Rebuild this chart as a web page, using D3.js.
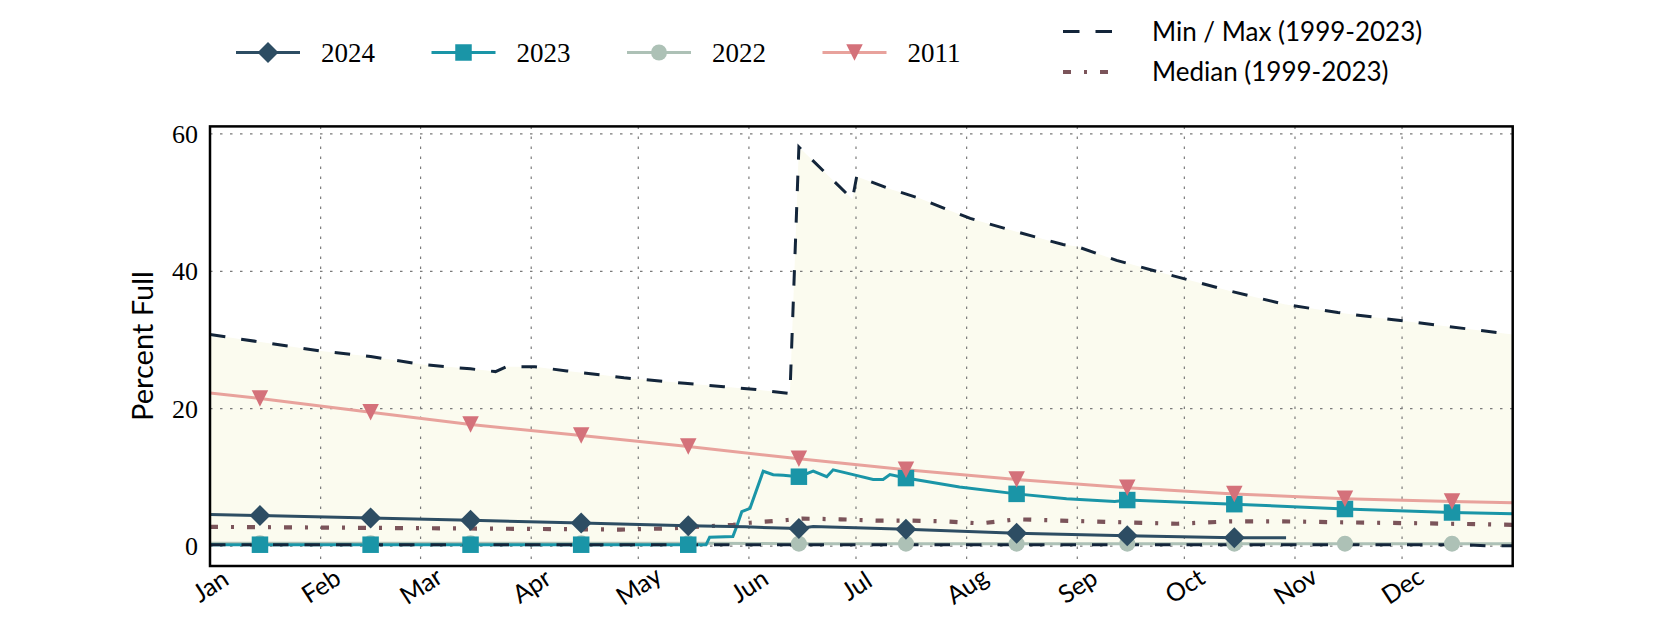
<!DOCTYPE html>
<html><head><meta charset="utf-8">
<script src="https://cdn.jsdelivr.net/npm/d3@7"></script>
<style>body{margin:0;background:#fff;} svg{display:block;}</style>
</head><body>
<svg id="chart" width="1680" height="630"></svg>
<script>
// ---------- data ----------
const monthLabels = ["Jan","Feb","Mar","Apr","May","Jun","Jul","Aug","Sep","Oct","Nov","Dec"];
const monthStartDays = [0,31,59,90,120,151,181,212,243,273,304,334];
const markerDays = [14,45,73,104,134,165,195,226,257,287,318,348];
const yTicks = [0,20,40,60];

const max9923 = [[0,30.8],[31,28.4],[45,27.6],[60,26.4],[73,25.8],[80,25.4],[83,26.1],[91,26.1],[100,25.5],[110,24.9],[116,24.5],[133,23.7],[144,23.2],[153,22.8],[162.5,22.2],[165,58.1],[180,50.5],[181.2,53.8],[190.5,52.0],[199,50.6],[206.5,49.0],[213,47.7],[225,45.9],[239,43.9],[243,43.6],[254,41.6],[268,39.6],[286,37.1],[301,35.2],[316,34.0],[331,33.0],[365,30.8]];
const min9923 = [[0,0.2],[120,0.2],[240,0.2],[352,0.2],[358,0.05],[365,0.05]];
const median9923 = [[0,2.8],[30,2.7],[60,2.6],[90,2.5],[115,2.4],[130,2.6],[146.6,3.1],[151.4,3.4],[161.8,3.8],[166,4.0],[176.6,3.9],[187,3.7],[196,3.7],[206,3.6],[216,3.3],[226,3.9],[246,3.6],[271,3.25],[286,3.6],[300,3.6],[319,3.45],[342,3.3],[365,3.1]];

const s2024 = [[0,4.6],[14,4.45],[45,4.1],[73,3.75],[104,3.35],[134,2.95],[150,2.8],[165,2.55],[169,2.85],[195,2.45],[226,1.85],[257,1.5],[287,1.2],[301.5,1.2]];
const s2023 = [[0,0.2],[14,0.2],[45,0.2],[73,0.2],[104,0.2],[134,0.2],[139,0.2],[140,1.3],[146.5,1.4],[147.6,2.9],[149,5.0],[151.3,5.5],[155,10.9],[157.8,10.4],[160.6,10.3],[165,10.1],[169,10.9],[172.8,10.1],[174.6,11.1],[180.2,10.4],[185.8,9.7],[188.6,9.7],[190.5,10.4],[195,9.9],[210,8.6],[226,7.6],[240,6.9],[253.5,6.5],[257,6.7],[287,6.1],[318,5.4],[348,4.9],[365,4.7]];
const s2022 = [[0,0.4],[14,0.4],[45,0.4],[73,0.4],[104,0.4],[134,0.4],[165,0.35],[195,0.35],[226,0.35],[257,0.35],[287,0.35],[318,0.35],[348,0.35],[365,0.35]];
const s2011 = [[0,22.3],[14,21.5],[45,19.5],[73,17.7],[104,16.1],[134,14.5],[165,12.7],[195,11.1],[226,9.7],[257,8.5],[287,7.6],[318,6.9],[348,6.5],[365,6.3]];

// ---------- layout ----------
const svg = d3.select("#chart");
const plot = {left:210, right:1512.7, top:126.4, bottom:566};
const x = d3.scaleLinear().domain([0,365]).range([plot.left, plot.right]);
const y = d3.scaleLinear().domain([-2.9,61.1]).range([plot.bottom, plot.top]);

const SANS = "Lato, 'Open Sans', sans-serif";
const SERIF = "'Liberation Serif', 'DejaVu Serif', serif";
const LW = 3;

svg.append("defs").append("clipPath").attr("id","clip")
  .append("rect").attr("x",plot.left).attr("y",plot.top)
  .attr("width",plot.right-plot.left).attr("height",plot.bottom-plot.top);

const g = svg.append("g").attr("clip-path","url(#clip)");

// shaded band between min and max
const band = max9923.map(d=>[x(d[0]),y(d[1])]).concat(min9923.slice().reverse().map(d=>[x(d[0]),y(d[1])]));
g.append("path").attr("d", d3.line()(band) + "Z").attr("fill","#fbfbef");

// grid
const gridStyle = sel => sel.attr("stroke","#7a7a7a").attr("stroke-width",1.2).attr("stroke-dasharray","2.5,7.5");
g.selectAll(".hg").data(yTicks).join("line")
  .attr("x1",plot.left).attr("x2",plot.right).attr("y1",d=>y(d)).attr("y2",d=>y(d)).call(gridStyle);
g.selectAll(".vg").data(monthStartDays.slice(1)).join("line")
  .attr("y1",plot.top).attr("y2",plot.bottom).attr("x1",d=>x(d)).attr("x2",d=>x(d)).call(gridStyle);

const line = d3.line().x(d=>x(d[0])).y(d=>y(d[1]));

const C = {c2024:"#2d4d63", c2023:"#1a95a7", c2022:"#adc1b6", c2011line:"#e8a29c", c2011:"#d4717a", minmax:"#13253a", median:"#7b545a"};

g.append("path").attr("d",line(median9923)).attr("fill","none").attr("stroke",C.median).attr("stroke-width",4.2).attr("stroke-dasharray","8,13,3,13");
g.append("path").attr("d",line(s2011)).attr("fill","none").attr("stroke",C.c2011line).attr("stroke-width",LW);
g.append("path").attr("d",line(s2022)).attr("fill","none").attr("stroke",C.c2022).attr("stroke-width",LW);
g.append("path").attr("d",line(s2023)).attr("fill","none").attr("stroke",C.c2023).attr("stroke-width",LW);
g.append("path").attr("d",line(min9923)).attr("fill","none").attr("stroke",C.minmax).attr("stroke-width",LW).attr("stroke-dasharray","15.5,16");
g.append("path").attr("d",line(max9923)).attr("fill","none").attr("stroke",C.minmax).attr("stroke-width",LW).attr("stroke-dasharray","15.5,16");
g.append("path").attr("d",line(s2024)).attr("fill","none").attr("stroke",C.c2024).attr("stroke-width",LW);

// marker symbols
const symDiamond = {draw(c,size){const r=Math.sqrt(size)/2; c.moveTo(0,-r); c.lineTo(r,0); c.lineTo(0,r); c.lineTo(-r,0); c.closePath();}};
const symTriDown = {draw(c,size){const r=Math.sqrt(size)/2; c.moveTo(-r,-r); c.lineTo(r,-r); c.lineTo(0,r); c.closePath();}};
const mk = {
  d2022: d3.symbol(d3.symbolCircle, Math.PI*8*8),
  d2023: d3.symbol(d3.symbolSquare, 16.5*16.5),
  d2011: d3.symbol(symTriDown, 16.5*16.5),
  d2024: d3.symbol(symDiamond, 21*21)
};
const onMarkers = s => s.filter(d=>markerDays.includes(d[0]));
function drawMarkers(data, sym, color){
  g.selectAll(null).data(onMarkers(data)).join("path")
    .attr("d",sym).attr("fill",color)
    .attr("transform",d=>`translate(${x(d[0])},${y(d[1])})`);
}
drawMarkers(s2022, mk.d2022, C.c2022);
drawMarkers(s2023, mk.d2023, C.c2023);
drawMarkers(s2011, mk.d2011, C.c2011);
drawMarkers(s2024, mk.d2024, C.c2024);

// axes
const yAxis = svg.append("g").attr("transform",`translate(${plot.left},0)`)
  .call(d3.axisLeft(y).tickValues(yTicks).tickSize(0).tickPadding(12).tickFormat(d3.format("d")));
yAxis.select(".domain").remove();
yAxis.selectAll("text").attr("font-family",SERIF).attr("font-size",26).attr("fill","#000");

const xAxis = svg.append("g").attr("transform",`translate(0,${plot.bottom})`)
  .call(d3.axisBottom(x).tickValues(monthStartDays).tickSize(0).tickFormat((d,i)=>monthLabels[i]));
xAxis.select(".domain").remove();
xAxis.selectAll("text").attr("y",0).attr("dy","0.35em").attr("text-anchor","middle")
  .attr("transform","translate(0,20) rotate(-33)")
  .attr("font-family",SANS).attr("font-size",25).attr("fill","#000");

svg.append("text").attr("transform","translate(141,346) rotate(-90)")
  .attr("text-anchor","middle").attr("dominant-baseline","central")
  .attr("font-family",SANS).attr("font-size",29).attr("fill","#000").text("Percent Full");

// frame
svg.append("rect").attr("x",plot.left).attr("y",plot.top)
  .attr("width",plot.right-plot.left).attr("height",plot.bottom-plot.top)
  .attr("fill","none").attr("stroke","#000").attr("stroke-width",2.5);

// legend
const legendYears = ["2024","2023","2022","2011"];
const legendColors = [C.c2024, C.c2023, C.c2022, C.c2011line];
const legendMarkColors = [C.c2024, C.c2023, C.c2022, C.c2011];
const legendSyms = [mk.d2024, mk.d2023, mk.d2022, mk.d2011];
const legendX = [236, 431.5, 627, 822.5];
const ly = 52.5;
legendYears.forEach((t,i)=>{
  const lg = svg.append("g").attr("transform",`translate(${legendX[i]},${ly})`);
  lg.append("line").attr("x1",0).attr("x2",64).attr("stroke",legendColors[i]).attr("stroke-width",LW);
  lg.append("path").attr("d",legendSyms[i]).attr("fill",legendMarkColors[i]).attr("transform","translate(32,0)");
  lg.append("text").attr("x",85).attr("dominant-baseline","central")
    .attr("font-family",SERIF).attr("font-size",27).attr("fill","#000").text(t);
});
const lg2 = svg.append("g");
lg2.append("line").attr("x1",1063).attr("x2",1112).attr("y1",31.5).attr("y2",31.5)
  .attr("stroke",C.minmax).attr("stroke-width",LW).attr("stroke-dasharray","16.5,16");
lg2.append("text").attr("x",1152).attr("y",31).attr("dominant-baseline","central")
  .attr("font-family",SANS).attr("font-size",26).attr("fill","#000").text("Min / Max (1999-2023)");
lg2.append("line").attr("x1",1063).attr("x2",1110).attr("y1",72).attr("y2",72)
  .attr("stroke",C.median).attr("stroke-width",4.2).attr("stroke-dasharray","8,13,3,13");
lg2.append("text").attr("x",1152).attr("y",71).attr("dominant-baseline","central")
  .attr("font-family",SANS).attr("font-size",26).attr("fill","#000").text("Median (1999-2023)");
</script>
</body></html>
